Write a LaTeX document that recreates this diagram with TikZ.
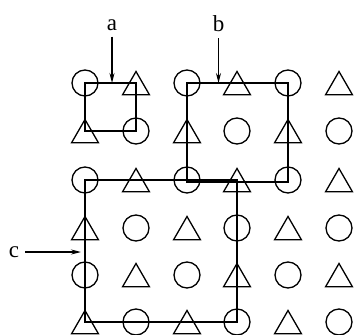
\documentclass[tikz,border=0pt]{standalone}
\usepackage{fontspec}
\setmainfont{Liberation Serif}
\usetikzlibrary{shapes.geometric,arrows.meta}
\begin{document}
\begin{tikzpicture}[x=1pt,y=-1pt,
  circ/.style={circle,draw,line width=1.3pt,minimum size=26pt,inner sep=0pt},
  tri/.style={regular polygon,regular polygon sides=3,draw,line width=1.3pt,minimum size=31pt,inner sep=0pt,yshift=-4pt},
  frame/.style={draw,line width=1.5pt},
  pointer/.style={-{Stealth[length=10pt,width=5pt]},line width=1.2pt},
  lab/.style={font=\fontsize{23}{25}\selectfont,inner sep=0pt}]
\fill[white] (0,0) rectangle (358,334);
\useasboundingbox (0,0) rectangle (358,334);
\foreach \i in {0,...,5}{
  \foreach \j in {0,...,5}{
    \pgfmathsetmacro\px{{85,136,187,237,288,339}[\i]}
    \pgfmathsetmacro\py{{83,131,180,228,275,322}[\j]}
    \pgfmathtruncatemacro\pty{mod(\i+\j,2)}
    \ifnum\pty=0
      \node[circ] (g\i\j) at (\px,\py) {};
    \else
      \node[tri] (g\i\j) at (\px,\py) {};
    \fi
  }
}
% frames
\draw[frame] (g00.center) rectangle (g11.center);
\draw[frame] (g20.center) rectangle ([yshift=-2pt]g42.center);
\draw[frame] (g02.center) rectangle (g35.center);
% labels and pointers
\node[lab] (la) at (112,25) {a};
\node[lab] (lb) at (218.5,24) {b};
\node[lab] (lc) at (14,252) {c};
\draw[pointer,shorten <=6pt] (la.south) -- (la.south |- g00.center);
\draw[pointer,shorten <=6pt] (lb.south) -- (lb.south |- g20.center);
\draw[pointer,shorten <=6pt,shorten >=4pt] (lc.east) -- (lc.east -| g02.center);
\end{tikzpicture}
\end{document}
